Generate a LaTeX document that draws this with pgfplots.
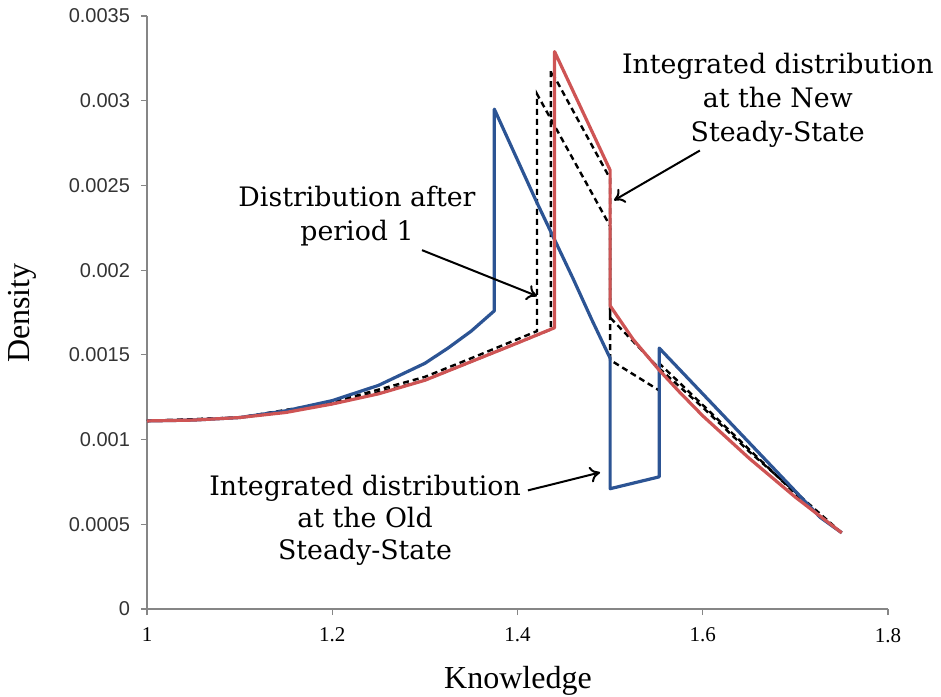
\documentclass[border=0pt]{standalone}
\usepackage{fontspec}
\usepackage{pgfplots}
\pgfplotsset{compat=1.18}
\usetikzlibrary{arrows.meta}
\setmainfont{DejaVu Serif}
\newfontfamily\labserif{Liberation Serif}
\newfontfamily\ticksans{Liberation Sans}
\definecolor{oldblue}{RGB}{44,84,148}
\definecolor{newred}{RGB}{206,84,84}
\definecolor{axisgray}{RGB}{134,134,134}

\begin{document}
\begin{tikzpicture}
\begin{axis}[
    scale only axis,
    width=370.5pt, height=296.5pt,
    xmin=1, xmax=1.8, ymin=0, ymax=0.0035,
    axis lines=left,
    axis line style={-, axisgray, line width=0.6pt},
    tick style={axisgray, line width=0.6pt},
    tick align=outside, major tick length=3pt,
    xtick={1,1.2,1.4,1.6,1.8},
    xticklabels={1,1.2,1.4,1.6,1.8},
    ytick={0,0.0005,0.001,0.0015,0.002,0.0025,0.003,0.0035},
    yticklabels={0,0.0005,0.001,0.0015,0.002,0.0025,0.003,0.0035},
    xticklabel style={font=\labserif\fontsize{10.5}{12}\selectfont, yshift=-3pt},
    yticklabel style={font=\ticksans\fontsize{10}{12}\selectfont, text=black!80, xshift=-2pt},
    clip=false,
]
\coordinate (BL) at (rel axis cs:0,0);
\coordinate (TR) at (rel axis cs:1,1);

% distribution after period 1 (two dashed paths)
\addplot[black, line width=1.2pt, dash pattern=on 3pt off 2pt] coordinates {
  (1.000,0.00111) (1.100,0.00113) (1.200,0.00122) (1.300,0.00137) (1.350,0.00148)
  (1.421,0.00164) (1.421,0.00304) (1.500,0.00226) (1.500,0.00147) (1.553,0.00129)
  (1.553,0.00145) (1.725,0.00055) (1.750,0.00045)};
\addplot[black, line width=1.2pt, dash pattern=on 3pt off 2pt] coordinates {
  (1.000,0.00111) (1.100,0.00113) (1.200,0.00121) (1.300,0.00135) (1.400,0.00157)
  (1.436,0.00165) (1.436,0.00318) (1.500,0.00254) (1.500,0.00172) (1.553,0.00142)
  (1.600,0.00119) (1.650,0.00093) (1.700,0.00069) (1.750,0.00045)};

% old steady state
\addplot[oldblue, line width=1.6pt, line join=round] coordinates {
  (1.000,0.00111) (1.050,0.001115) (1.100,0.00113) (1.150,0.00117) (1.200,0.00123)
  (1.250,0.00132) (1.300,0.00145) (1.325,0.00154) (1.350,0.00164) (1.375,0.00176)
  (1.375,0.00295) (1.400,0.00265) (1.420,0.00241) (1.440,0.00218) (1.460,0.00195)
  (1.480,0.00171) (1.500,0.00148) (1.500,0.00071) (1.553,0.00078)
  (1.553,0.00154) (1.727,0.00054) (1.750,0.00045)};

% new steady state
\addplot[newred, line width=1.6pt, line join=round] coordinates {
  (1.000,0.00111) (1.050,0.001115) (1.100,0.00113) (1.150,0.00116) (1.200,0.00121)
  (1.250,0.00127) (1.300,0.00135) (1.350,0.00146) (1.400,0.00157) (1.440,0.00166)
  (1.440,0.00329) (1.500,0.00259) (1.500,0.00179) (1.525,0.00159) (1.553,0.00141)
  (1.575,0.00128) (1.600,0.00114) (1.650,0.00089) (1.700,0.00066) (1.750,0.00045)};

% labels
\node[rotate=90, font=\labserif\fontsize{16}{18}\selectfont] at (axis cs:0.865,0.001747) {Density};
\node[font=\labserif\fontsize{16}{18}\selectfont] at (axis cs:1.4005,-0.000424) {Knowledge};

\node[align=center, font=\fontsize{13.4}{17}\selectfont] at (axis cs:1.681,0.00300)
  {Integrated distribution\\at the New\\Steady-State};
\node[align=center, font=\fontsize{13.4}{17}\selectfont] at (axis cs:1.2267,0.002318)
  {Distribution after\\period 1};
\node[align=center, font=\fontsize{13.4}{16}\selectfont] at (axis cs:1.2354,0.000524)
  {Integrated distribution\\at the Old\\Steady-State};

\draw[-{To[length=5pt,width=8pt]}, line width=1pt] (axis cs:1.5969,0.002706) -- (axis cs:1.5042,0.002412);
\draw[-{To[length=5pt,width=8pt]}, line width=1pt] (axis cs:1.2969,0.002118) -- (axis cs:1.4211,0.001847);
\draw[-{To[length=5pt,width=8pt]}, line width=1pt] (axis cs:1.4113,0.000700) -- (axis cs:1.4891,0.000806);
\end{axis}
\pgfresetboundingbox
\path[use as bounding box] ([xshift=-73.5pt,yshift=-43.5pt]BL) rectangle ([xshift=26.5pt,yshift=8pt]TR);
\end{tikzpicture}
\end{document}
